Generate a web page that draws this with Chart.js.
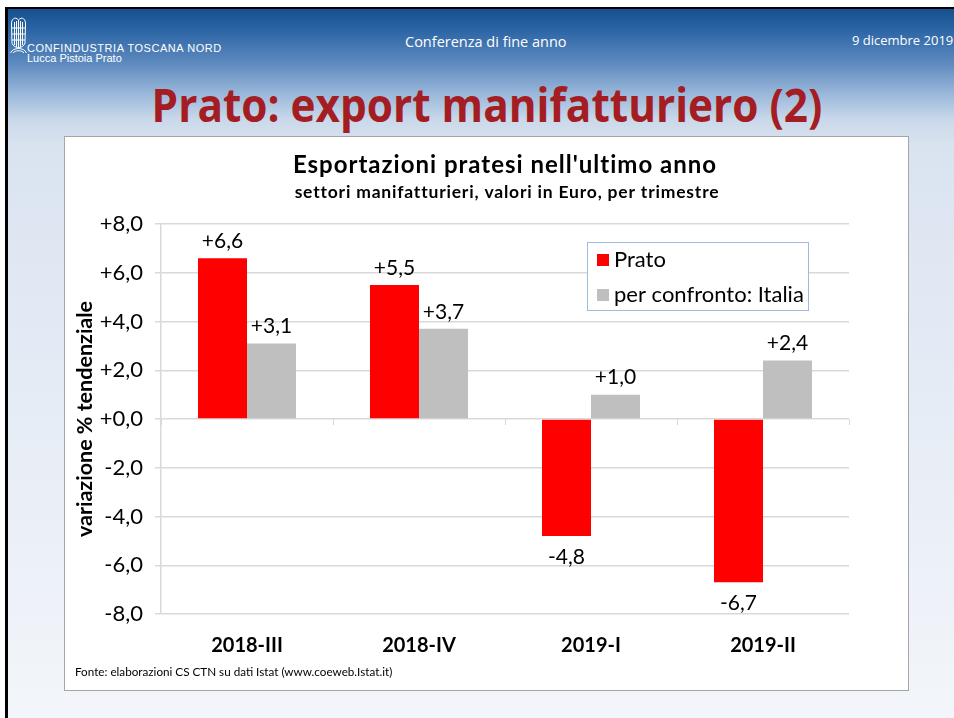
<!DOCTYPE html>
<html>
<head>
<meta charset="utf-8">
<script src="https://cdn.jsdelivr.net/npm/chart.js@4.4.1/dist/chart.umd.min.js"></script>
<style>
  html, body { margin: 0; padding: 0; }
  body { width: 954px; height: 718px; overflow: hidden; background: #ffffff; position: relative; font-family: "Open Sans", sans-serif; }
  #slide { position: absolute; left: 5px; top: 7px; width: 949px; height: 711px;
    border-left: 3px solid #000; border-top: 2px solid #000; box-sizing: border-box;
    background: linear-gradient(to bottom, #17508f 0px, #2d66a6 22px, #5f8bbf 55px, #9ab8da 85px, #c9d8ea 110px, #d9e3f0 135px, #e2e9f4 300px, #f3f6fa 718px); }
  .hdr { position: absolute; color: #fff; white-space: nowrap; }
  #conf { left: 405px; top: 32px; font-size: 14.5px; }
  #date { left: 852px; top: 31px; font-size: 13px; }
  #org1 { left: 27px; top: 42px; font-size: 11px; font-family: "Liberation Sans", sans-serif; letter-spacing: 0.55px; }
  #org2 { left: 27px; top: 52px; font-size: 11px; font-family: "Liberation Sans", sans-serif; }
  #title { position: absolute; left: 0; width: 974px; top: 81px; line-height: 46px; text-align: center; font-size: 46px; font-weight: bold; color: #a41d22; white-space: nowrap; transform: scaleX(0.92); transform-origin: 487px 0; }
  #panel { position: absolute; left: 64px; top: 136px; width: 843px; height: 553px; border: 1px solid #a6a6a6; background: #fff; }
  #panel canvas { position: absolute; left: 0; top: 0; }
  #fonte { position: absolute; left: 10px; top: 527px; font-family: Lato, sans-serif; font-size: 11.7px; color: #000; white-space: nowrap; }
</style>
</head>
<body>
<div id="slide"></div>
<svg style="position:absolute;left:10px;top:16px" width="17" height="38" viewBox="0 0 17 38">
  <g fill="none" stroke="#fff" stroke-width="1">
    <path d="M8.5 4 C5 0 1 3 1.5 9 L2 27 C3 30 5 31 8.5 32 C12 31 14 30 15 27 L15.5 9 C16 3 12 0 8.5 4"/>
    <path d="M4.5 6 L4.5 29 M6.5 5 L6.5 31 M10.5 5 L10.5 31 M12.5 6 L12.5 29 M8.5 4 L8.5 32"/>
    <path d="M2 12 L15 12 M2 18 L15 18 M2 24 L15 24"/>
    <path d="M0.5 37 C3 31 14 31 16.5 37 M3 37 C5 34 12 34 14 37"/>
  </g>
</svg>
<div class="hdr" id="org1">CONFINDUSTRIA TOSCANA NORD</div>
<div class="hdr" id="org2">Lucca Pistoia Prato</div>
<div class="hdr" id="conf">Conferenza di fine anno</div>
<div class="hdr" id="date">9 dicembre 2019</div>
<div id="title">Prato: export manifatturiero (2)</div>
<div id="panel">
  <canvas id="c" width="843" height="553"></canvas>
  <div id="fonte">Fonte: elaborazioni CS CTN su dati Istat (www.coeweb.Istat.it)</div>
</div>
<script>
const categories = ["2018-III", "2018-IV", "2019-I", "2019-II"];
const pratoValues = [6.6, 5.5, -4.8, -6.7];
const italiaValues = [3.1, 3.7, 1.0, 2.4];
const seriesNames = ["Prato", "per confronto: Italia"];
const chartTitle = "Esportazioni pratesi nell'ultimo anno";
const chartSubtitle = "settori manifatturieri, valori in Euro, per trimestre";
const yAxisTitle = "variazione % tendenziale";

const FONT = "Lato, sans-serif";
function fmt(v) {
  const s = Math.abs(v).toFixed(1).replace('.', ',');
  return (v < 0 ? '-' : '+') + s;
}

const titlePlugin = {
  id: 'plotTitles',
  afterDraw(chart) {
    const ctx = chart.ctx;
    const a = chart.chartArea;
    const cx = (a.left + a.right) / 2;
    ctx.save();
    ctx.fillStyle = "#000";
    ctx.textAlign = "center";
    ctx.textBaseline = "alphabetic";
    ctx.font = "bold 24px " + FONT;
    ctx.letterSpacing = "1px";
    ctx.fillText(chartTitle, cx, 36);
    ctx.font = "bold 17.5px " + FONT;
    ctx.letterSpacing = "0.8px";
    ctx.fillText(chartSubtitle, cx + 2, 61);
    ctx.restore();
  }
};

const labelPlugin = {
  id: 'valueLabels',
  afterDatasetsDraw(chart) {
    const ctx = chart.ctx;
    ctx.save();
    ctx.font = "21px " + FONT;
    ctx.fillStyle = "#000";
    ctx.textAlign = "center";
    ctx.textBaseline = "middle";
    chart.data.datasets.forEach((ds, di) => {
      const meta = chart.getDatasetMeta(di);
      meta.data.forEach((bar, i) => {
        const v = ds.data[i];
        const y = v >= 0 ? bar.y - 17 : bar.y + 21;
        ctx.fillText(fmt(v), bar.x, y);
      });
    });
    ctx.restore();
  }
};

const legendPlugin = {
  id: 'boxLegend',
  afterDraw(chart) {
    const ctx = chart.ctx;
    const a = chart.chartArea;
    const x0 = a.left + 426, y0 = a.top + 18, w = 221, h = 68;
    ctx.save();
    ctx.fillStyle = "#fff";
    ctx.fillRect(x0, y0, w, h);
    ctx.strokeStyle = "#9dbbe0";
    ctx.lineWidth = 1;
    ctx.strokeRect(x0 + 0.5, y0 + 0.5, w, h);
    ctx.font = "22px " + FONT;
    ctx.textBaseline = "middle";
    ctx.textAlign = "left";
    chart.data.datasets.forEach((ds, i) => {
      const cy = y0 + 18 + i * 35;
      ctx.fillStyle = ds.backgroundColor;
      ctx.fillRect(x0 + 10, cy - 6, 12, 12);
      ctx.fillStyle = "#000";
      ctx.fillText(ds.label, x0 + 27, cy);
    });
    ctx.restore();
  }
};

new Chart(document.getElementById('c'), {
  type: 'bar',
  data: {
    labels: categories,
    datasets: [
      { label: seriesNames[0], data: pratoValues, backgroundColor: "#ff0000", borderWidth: 0 },
      { label: seriesNames[1], data: italiaValues, backgroundColor: "#bfbfbf", borderWidth: 0 }
    ]
  },
  options: {
    responsive: false,
    animation: false,
    devicePixelRatio: 1,
    layout: { padding: { left: 0, right: 59, top: 87, bottom: 0 } },
    datasets: { bar: { barPercentage: 1.0, categoryPercentage: 0.57 } },
    plugins: {
      legend: { display: false },
      tooltip: { enabled: false },
      title: { display: false },
      subtitle: { display: false }
    },
    scales: {
      x: {
        grid: { display: false, drawTicks: false },
        border: { display: false },
        ticks: { color: "#000", font: { family: FONT, size: 20, weight: 'bold' }, padding: 20, maxRotation: 0 },
        afterFit(s) { s.height = 76; }
      },
      xZero: {
        type: 'category',
        labels: categories,
        position: { y: 0 },
        grid: { display: true, drawOnChartArea: false, drawTicks: true, tickLength: 6, color: "#d9d9d9", offset: true },
        border: { display: false },
        ticks: { display: false }
      },
      y: {
        min: -8, max: 8,
        ticks: { stepSize: 2, color: "#000", font: { family: FONT, size: 22 }, padding: 12, callback: (v) => fmt(v) },
        grid: { color: "#d9d9d9", lineWidth: 1.5, tickLength: 6 },
        border: { display: true, color: "#d9d9d9", width: 1.5 },
        title: { display: true, text: yAxisTitle, color: "#000", font: { family: FONT, size: 21.5, weight: 'bold' }, padding: { top: 7, bottom: 0 } },
        afterFit(s) { s.width = 96; }
      }
    }
  },
  plugins: [titlePlugin, labelPlugin, legendPlugin]
});
</script>
</body>
</html>
